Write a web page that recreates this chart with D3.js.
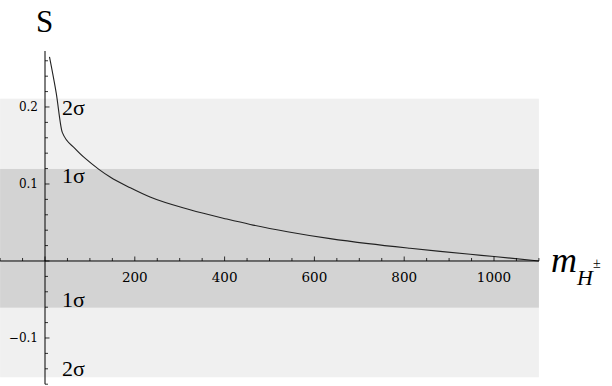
<!DOCTYPE html>
<html><head><meta charset="utf-8">
<script src="https://cdn.jsdelivr.net/npm/d3@7"></script>
<style>body{margin:0;background:#fff}svg{display:block}text{font-family:"Liberation Serif","Times New Roman","DejaVu Serif",serif}text.tick{font-family:"DejaVu Serif",serif}</style>
</head><body>
<svg id="c" width="612" height="386"></svg>
<script>
const massValues = [10, 25, 38.5, 67, 91, 120, 145, 190, 234, 323, 405, 457, 540, 635, 720, 813, 880, 947, 1000, 1100];
const sValues = [0.265, 0.218, 0.167, 0.146, 0.1325, 0.119, 0.109, 0.095, 0.083, 0.0665, 0.0545, 0.0475, 0.038, 0.029, 0.0225, 0.0165, 0.0125, 0.0087, 0.0058, 0.0];
const bandLabels = ["2σ", "1σ"];
const bandLow = [-0.151, -0.0606];
const bandHigh = [0.2108, 0.1195];
const xTickLabels = [200, 400, 600, 800, 1000];
const yTickLabels = [0.2, 0.1, -0.1];

const svg = d3.select("#c");
const x = d3.scaleLinear().domain([-100, 1100]).range([0.1, 538.9]);
const y = d3.scaleLinear().domain([-0.16, 0.2727]).range([384.2, 51]);

// bands
const bandColors = ["#f0f0f0", "#d3d3d3"];
bandLabels.forEach((lab, i) => {
  svg.append("rect").attr("x", x(-100)).attr("width", x(1100) - x(-100))
    .attr("y", y(bandHigh[i])).attr("height", y(bandLow[i]) - y(bandHigh[i]))
    .attr("fill", bandColors[i]);
});

// band labels
const lblX = 62;
[[bandLabels[0], bandHigh[0], 16], [bandLabels[1], bandHigh[1], 14.5], [bandLabels[1], bandLow[1], -0.5], [bandLabels[0], bandLow[0], -0.8]]
.forEach(([t, v, dy]) => {
  svg.append("text").attr("x", lblX).attr("y", y(v) + dy).text(t)
    .attr("font-size", 22).attr("fill", "#000");
});

// curve
const pts = massValues.map((m, i) => [m, sValues[i]]);
svg.append("path").datum(pts)
  .attr("d", d3.line().x(d => x(d[0])).y(d => y(d[1])).curve(d3.curveMonotoneX))
  .attr("fill", "none").attr("stroke", "#222").attr("stroke-width", 1.1);

// x axis
const xAxisG = svg.append("g").attr("transform", `translate(0,${y(0)})`);
xAxisG.append("line").attr("x1", x(-100)).attr("x2", x(1100)).attr("stroke", "#000");
const xMinor = d3.range(-100, 1101, 50);
xAxisG.selectAll("line.t").data(xMinor).join("line").attr("class", "t")
  .attr("x1", d => x(d)).attr("x2", d => x(d))
  .attr("y1", 0).attr("y2", d => d % 200 === 0 ? -4.5 : -3)
  .attr("stroke", "#000").attr("stroke-width", 0.8);
xAxisG.selectAll("text").data(xTickLabels).join("text").attr("class", "tick")
  .attr("x", d => x(d)).attr("y", 21.5).attr("text-anchor", "middle")
  .attr("font-size", 13.5).text(d => d);

// y axis
const yAxisG = svg.append("g").attr("transform", `translate(${x(0)},0)`);
yAxisG.append("line").attr("y1", y(0.2727)).attr("y2", y(-0.16)).attr("stroke", "#000");
const yMinor = d3.range(-0.16, 0.271, 0.02).map(v => Math.round(v * 100) / 100);
yAxisG.selectAll("line.t").data(yMinor).join("line").attr("class", "t")
  .attr("y1", d => y(d)).attr("y2", d => y(d))
  .attr("x1", 0).attr("x2", d => Math.abs(Math.round(d * 100)) % 10 === 0 ? 4.5 : 3)
  .attr("stroke", "#000").attr("stroke-width", 0.8);
yAxisG.selectAll("text").data(yTickLabels).join("text").attr("class", "tick")
  .attr("x", -7).attr("y", d => y(d) + 4.5).attr("text-anchor", "end")
  .attr("font-size", 12)
  .text(d => d < 0 ? "\u2212" + d3.format(".1f")(-d) : d3.format(".1f")(d));

// axis labels
svg.append("text").attr("x", 44.5).attr("y", 31.5).attr("text-anchor", "middle")
  .attr("font-size", 31).text("S");
const ml = svg.append("text").attr("x", 551).attr("y", 271.5).attr("font-style", "italic");
ml.append("tspan").attr("font-size", 36).text("m");
ml.append("tspan").attr("font-size", 22).attr("dy", 13.5).text("H");
ml.append("tspan").attr("font-size", 14).attr("font-style", "normal").attr("dy", -17).text("±");
</script>
</body></html>
